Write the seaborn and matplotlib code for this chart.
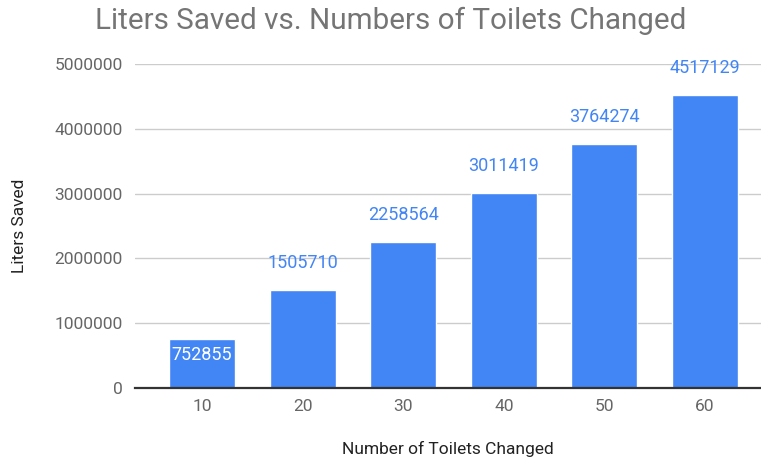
import matplotlib
matplotlib.use("Agg")
import matplotlib.pyplot as plt
import seaborn as sns
import pandas as pd

toilets = ["10", "20", "30", "40", "50", "60"]
liters_saved = [752855, 1505710, 2258564, 3011419, 3764274, 4517129]
y_ticks = [0, 1000000, 2000000, 3000000, 4000000, 5000000]

sns.set_style("white")
plt.rcParams["font.family"] = ["Roboto", "DejaVu Sans"]

BLUE = "#4285F4"
W, H = 761, 458
fig = plt.figure(figsize=(W / 100, H / 100), dpi=100)
ax = fig.add_axes([135 / W, (H - 388) / H, (W - 135) / W, (388 - 64) / H])

df = pd.DataFrame({"toilets": toilets, "liters": liters_saved})
sns.barplot(data=df, x="toilets", y="liters", order=toilets, color=BLUE,
            saturation=1, width=0.656, ax=ax, zorder=3)

ax.set_xlim(-0.666, 5.557)
ax.set_ylim(0, 5000000)
ax.set_yticks(y_ticks)
ax.set_yticklabels([str(v) for v in y_ticks])
ax.yaxis.grid(True, color="#cccccc", linewidth=1.0, zorder=0)
ax.set_axisbelow(True)
for side in ["top", "right", "left"]:
    ax.spines[side].set_visible(False)
ax.spines["bottom"].set_color("#333333")
ax.spines["bottom"].set_linewidth(1.6)
ax.spines["bottom"].set_zorder(4)

ax.tick_params(axis="both", length=0, labelsize=12.5, labelcolor="#666666")
ax.tick_params(axis="y", pad=9)
ax.tick_params(axis="x", pad=8)

ax.set_xlabel("Number of Toilets Changed", fontsize=12.5, color="#222222")
ax.set_ylabel("Liters Saved", fontsize=12.5, color="#222222")
ax.xaxis.set_label_coords(448 / W, (H - 449) / H, transform=fig.transFigure)
ax.xaxis.label.set_va("center")
ax.yaxis.set_label_coords(20 / W, (H - 226) / H, transform=fig.transFigure)
ax.yaxis.label.set_va("center")

fig.text(391 / W, 1 - 21 / H, "Liters Saved vs. Numbers of Toilets Changed",
         ha="center", va="center", fontsize=21.3, color="#757575")

for i, v in enumerate(liters_saved):
    if i == 0:
        ax.annotate(str(v), (i, v), xytext=(0, -16), textcoords="offset pixels",
                    ha="center", va="center", fontsize=13, color="white", zorder=5)
    else:
        ax.annotate(str(v), (i, v), xytext=(0, 27), textcoords="offset pixels",
                    ha="center", va="center", fontsize=13, color=BLUE, zorder=5,
                    annotation_clip=False)

fig.savefig("out.png", dpi=100)
